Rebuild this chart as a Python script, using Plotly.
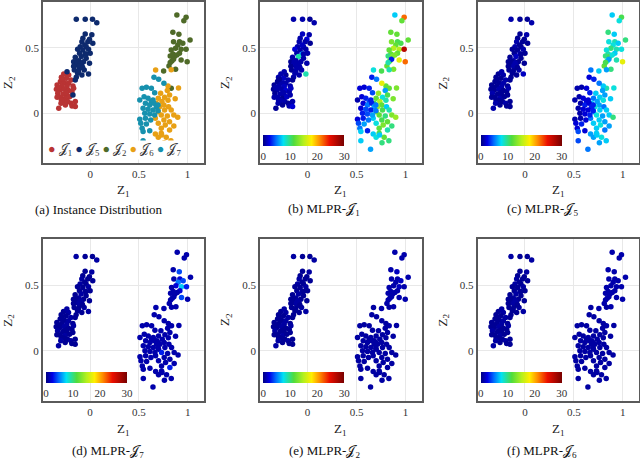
import plotly.graph_objects as go

# ---------------- data: instance positions (Z1, Z2) per group ----------------
I1_x = [-0.272,-0.221,-0.296,-0.245,-0.197,-0.306,-0.265,-0.221,-0.34,-0.289,
        -0.238,-0.177,-0.347,-0.313,-0.265,-0.221,-0.187,-0.333,-0.279,-0.238,
        -0.306,-0.255,-0.211,-0.272,-0.231,-0.197,-0.153,-0.187,-0.153,-0.323,
        -0.296,-0.34,-0.17,-0.323,-0.289,-0.245,-0.30,-0.255]
I1_y = [0.30,0.293,0.275,0.267,0.254,0.242,0.234,0.229,0.216,0.209,
        0.204,0.209,0.183,0.178,0.183,0.173,0.165,0.153,0.148,0.14,
        0.122,0.115,0.127,0.097,0.089,0.076,0.089,0.056,0.051,0.038,
        0.102,0.122,0.191,0.196,0.259,0.158,0.076,0.064]

I5_x = [-0.143,-0.051,0.024,0.068,-0.051,0.017,-0.075,-0.007,-0.085,-0.024,
        0.027,-0.102,-0.041,-0.129,-0.075,-0.017,-0.109,-0.051,0.0,-0.153,
        -0.092,-0.041,-0.17,-0.119,-0.068,-0.007,-0.143,-0.085,-0.109,-0.163,
        -0.061,-0.129,-0.017,-0.085,-0.143,-0.238,-0.153,-0.177,-0.136,-0.10,
        -0.041,-0.055,-0.115,-0.078,-0.17,-0.12]
I5_y = [0.718,0.718,0.718,0.692,0.606,0.60,0.573,0.565,0.547,0.547,
        0.534,0.509,0.509,0.489,0.483,0.489,0.458,0.453,0.458,0.427,
        0.433,0.42,0.394,0.402,0.394,0.382,0.369,0.361,0.344,0.331,
        0.331,0.305,0.30,0.293,0.275,0.318,0.254,0.14,0.394,0.382,
        0.453,0.522,0.362,0.35,0.36,0.32]

I2_x = [0.891,0.986,0.963,0.85,0.912,1.027,0.857,0.918,0.952,0.901,
        0.878,0.935,0.986,0.833,0.85,0.918,0.823,0.867,0.935,0.997,
        0.84,0.81,0.878,0.755,0.833,0.857,0.823,0.891]
I2_y = [0.751,0.733,0.707,0.618,0.603,0.56,0.547,0.547,0.534,0.522,
        0.496,0.489,0.489,0.483,0.453,0.458,0.438,0.433,0.407,0.394,
        0.40,0.361,0.336,0.323,0.191,0.412,0.387,0.445]

I6_x = [0.673,0.80,0.908,0.793,0.724,0.816,0.765,0.70,0.80,0.874,
        0.738,0.68,0.758,0.714,0.806,0.765,0.70,0.833,0.731,0.793,
        0.86,0.90,0.67,0.758,0.816,0.70,0.772,0.86,0.731,0.816,
        0.67,0.731,0.782,0.70,0.83,0.833,0.643,0.735,0.76]
I6_y = [0.331,0.208,0.193,0.173,0.153,0.14,0.122,0.114,0.10,0.111,
        0.089,0.076,0.063,0.05,0.05,0.025,0.012,0.025,-0.013,-0.021,
        -0.013,-0.031,-0.038,-0.051,-0.064,-0.076,-0.089,-0.097,-0.115,-0.127,
        -0.158,-0.153,-0.183,-0.183,-0.21,0.333,-0.275,-0.166,-0.225]

I7_x = [0.656,0.704,0.758,0.534,0.578,0.629,0.663,0.51,0.554,0.595,
        0.629,0.568,0.612,0.656,0.68,0.544,0.595,0.646,0.697,0.561,
        0.612,0.663,0.51,0.568,0.622,0.52,0.578,0.534,0.544,0.612,
        0.544,0.646,0.697]
I7_y = [0.275,0.26,0.229,0.191,0.198,0.191,0.157,0.101,0.127,0.114,
        0.089,0.076,0.063,0.076,0.05,0.038,0.031,0.025,0.02,0.0,
        -0.005,-0.013,-0.046,-0.038,-0.051,-0.076,-0.082,-0.115,-0.14,-0.133,
        -0.21,0.101,0.063]

# ---------------- data: MLPR values per panel and group ----------------
b_I1 = [1,0.5,1,1.5,1,0.5,1,1,0.5,1, 1.5,1,0.5,1,1,2,1,0.5,1,1,
        1,0.5,1.5,1,1,0.5,1,1,2,0.5, 1,1,1.5,1,0.5,1,1,0.5]
b_I5 = [1,1,0.5,1,1.5,1,1,2,1,1, 0.5,1,1,2,1,1,1,6,1,1,
        9,1,0.5,1,1,1,1.5,1,1,0.5, 1,1,9,1,1,1,0.5,1,1,1,
        1,1.5,1,1,0.5,1]
b_I2 = [7,22,12,12,12,12,13,11,11,12, 15,15,27,12,12,12,10,13,17,22,
        12,12,13,11,12,3,9,13]
b_I6 = [8,12,13,6,14,11,8,12,9,13, 15,11,12,14,7,11,13,9,12,10,
        13,14,7,11,12,8,13,10,12,9, 7,11,12,8,10,9,6,7,10]
b_I7 = [3,5,17,2,2,3,4,1,2,3, 4,2,5,3,6,2,4,3,5,3,
        4,6,2,3,5,4,6,5,7,3, 7,3,5]

c_I1 = [0.5,1,0.5,0.5,1,0.5,0.5,1,0.5,0.5, 1,0.5,0.5,0.5,1,0.5,0.5,1,0.5,0.5,
        0.5,1,0.5,0.5,0.5,1,0.5,0.5,0.5,1, 0.5,0.5,1,0.5,0.5,0.5,1,0.5]
c_I5 = [1,0.5,0.5,1,0.5,1,0.5,0.5,1,0.5, 0.5,1,0.5,0.5,0.5,1,0.5,1.5,0.5,0.5,
        1.5,0.5,0.5,1,0.5,0.5,0.5,1,0.5,0.5, 1,0.5,1.5,0.5,0.5,1,0.5,0.5,0.5,1,
        0.5,0.5,1,0.5,0.5,0.5]
c_I2 = [7,11,8,10,7,10,8,9,7,8, 10,9,8,8,9,7,10,11,9,17,
        8,12,10,7,9,6,11,8]
c_I6 = [5,7,8,6,7,6,7,5,8,7, 6,7,6,8,5,7,6,7,8,6,
        7,10,5,7,6,7,8,6,7,5, 6,7,8,6,7,6,5,7,6]
c_I7 = [2,3,5,1,1,2,3,1,1,2, 2,1,3,2,3,1,2,2,3,1,
        2,3,1,1,2,2,3,2,4,2, 4,2,3]

d_I1 = [0.5,0.8,0.5,0.5,0.8,0.5,0.5,0.8,0.5,0.5, 0.8,0.5,0.5,0.5,0.8,0.5,0.5,0.8,0.5,0.5,
        0.5,0.8,0.5,0.5,0.5,0.8,0.5,0.5,0.5,0.8, 0.5,0.5,0.8,0.5,0.5,0.5,0.8,0.5]
d_I5 = [0.8,0.5,0.5,0.8,0.5,0.8,0.5,0.5,0.8,0.5, 0.5,0.8,0.5,0.5,0.5,0.8,0.5,0.8,0.5,0.5,
        0.8,0.5,0.5,0.8,0.5,0.5,0.5,0.8,0.5,0.5, 0.8,0.5,0.8,0.5,0.5,0.8,0.5,0.5,0.5,0.8,
        0.5,0.5,0.8,0.5,0.5,0.5]
d_I2 = [1,1,1,1,4,1,1,2,4,5, 2,7,3,1,1,2,1,1,4,1,
        1,1,1,1,1,1,1,1]
d_I6 = [1,1,1,1,1,1,1,1,1,1, 1,1,1,1,1,1,1,1,3,1,
        1,1,1,1,1,1,1,1,1,3, 1,1,1,1,1,1,1,1,1]
d_I7 = [1,1,1,1,1,1,1,1,1,1, 1,1,1,1,1,1,1,1,1,1,
        1,1,1,1,1,1,1,1,1,1, 1,1,1]

e_I1 = d_I1
e_I5 = d_I5
e_I2 = [1,1,1,1,1.5,1,1,1,1.5,1, 1,1.5,1,1,1,1,1,1,1,1,
        1,1,1,1,1,1,1,1]
e_I6 = [0.8,0.8,0.8,0.8,0.8,0.8,0.8,0.8,0.8,0.8, 0.8,0.8,0.8,0.8,0.8,0.8,0.8,0.8,0.8,0.8,
        0.8,0.8,0.8,0.8,0.8,0.8,0.8,0.8,0.8,0.8, 0.8,0.8,0.8,0.8,0.8,0.8,0.8,0.8,0.8]
e_I7 = [0.8,0.8,0.8,0.8,0.8,0.8,0.8,0.8,0.8,0.8, 0.8,0.8,0.8,0.8,0.8,0.8,0.8,0.8,0.8,0.8,
        0.8,0.8,0.8,0.8,0.8,0.8,0.8,0.8,0.8,0.8, 0.8,0.8,0.8]

f_I1 = d_I1
f_I5 = d_I5
f_I2 = [1,1,1,1,1,1,1,1,1,1, 1,1,1,1,1,1,1,1,1,1,
        1,1,1,1,1,1,1,1]
f_I6 = e_I6
f_I7 = e_I7

group_names = ["𝒥<sub>1</sub>", "𝒥<sub>5</sub>", "𝒥<sub>2</sub>", "𝒥<sub>6</sub>", "𝒥<sub>7</sub>"]
group_colors = ["#b93434", "#0d2a6e", "#4f6a28", "#e8a015", "#1791ae"]
cbar_ticks = [0, 10, 20, 30]
captions = ["(a) Instance Distribution", "(b) MLPR-𝒥<sub>1</sub>", "(c) MLPR-𝒥<sub>5</sub>",
            "(d) MLPR-𝒥<sub>7</sub>", "(e) MLPR-𝒥<sub>2</sub>", "(f) MLPR-𝒥<sub>6</sub>"]

# jet-like colour map as seen in the reference colour bars
JET = [[0.0, "rgb(0,0,128)"], [0.08, "rgb(0,0,230)"], [0.16, "rgb(0,110,255)"],
       [0.25, "rgb(0,225,245)"], [0.38, "rgb(80,220,60)"], [0.5, "rgb(180,240,30)"],
       [0.6, "rgb(255,238,0)"], [0.7, "rgb(255,140,0)"], [0.82, "rgb(235,15,0)"],
       [1.0, "rgb(120,0,0)"]]

# ---------------- layout geometry (pixels) ----------------
W, H = 640, 459
SERIF = "Liberation Serif, Times New Roman, DejaVu Serif, serif"
panels_px = [  # left, right, top, bottom
    (43, 203.5, 2, 163), (260, 421.7, 2, 163), (477.5, 639, 2, 163),
    (42.7, 204, 239.3, 400.7), (260, 421.7, 239.3, 400.7), (477.5, 639, 239.3, 400.7),
]
XR = [-0.485, 1.165]
YR = [-0.38, 0.85]

fig = go.Figure()
all_x = I1_x + I5_x + I2_x + I6_x + I7_x
all_y = I1_y + I5_y + I2_y + I6_y + I7_y

# panel (a): groups
gx = [I1_x, I5_x, I2_x, I6_x, I7_x]
gy = [I1_y, I5_y, I2_y, I6_y, I7_y]
for k in range(5):
    fig.add_trace(go.Scatter(x=gx[k], y=gy[k], mode="markers", xaxis="x", yaxis="y",
                             marker=dict(size=5.5, color=group_colors[k]),
                             showlegend=False, hoverinfo="skip"))

panel_vals = [
    b_I1 + b_I5 + b_I2 + b_I6 + b_I7,
    c_I1 + c_I5 + c_I2 + c_I6 + c_I7,
    d_I1 + d_I5 + d_I2 + d_I6 + d_I7,
    e_I1 + e_I5 + e_I2 + e_I6 + e_I7,
    f_I1 + f_I5 + f_I2 + f_I6 + f_I7,
]
for i, vals in enumerate(panel_vals):
    p = i + 2
    l, r, t, b = panels_px[p - 1]
    bar_top = t + 133
    fig.add_trace(go.Scatter(
        x=all_x, y=all_y, mode="markers", xaxis=f"x{p}", yaxis=f"y{p}",
        marker=dict(size=5.5, color=vals, colorscale=JET, cmin=0, cmax=30,
                    showscale=True,
                    colorbar=dict(orientation="h", x=(l + 3.3) / W, xanchor="left",
                                  y=1 - bar_top / H, yanchor="top",
                                  len=81, lenmode="pixels", thickness=11,
                                  xpad=0, ypad=0, outlinewidth=0,
                                  tickvals=cbar_ticks, ticks="",
                                  tickfont=dict(family=SERIF, size=11, color="#333"))),
        showlegend=False, hoverinfo="skip"))

layout = dict(width=W, height=H, margin=dict(l=0, r=0, t=0, b=0),
              paper_bgcolor="white", plot_bgcolor="white", showlegend=False)
for p, (l, r, t, b) in enumerate(panels_px, start=1):
    sx = "" if p == 1 else str(p)
    layout[f"xaxis{sx}"] = dict(domain=[l / W, r / W], anchor=f"y{sx}", range=XR,
                                tickvals=[0, 0.5, 1], ticktext=["0", "0.5", "1"],
                                showgrid=True, gridcolor="#e8e8e8", gridwidth=1,
                                zeroline=False, showline=True, mirror=True,
                                linecolor="#5a5a5a", linewidth=1.5, ticks="",
                                tickfont=dict(family=SERIF, size=11, color="#333"))
    layout[f"yaxis{sx}"] = dict(domain=[1 - b / H, 1 - t / H], anchor=f"x{sx}", range=YR,
                                tickvals=[0, 0.5], ticktext=["0", "0.5"],
                                showgrid=True, gridcolor="#e8e8e8", gridwidth=1,
                                zeroline=False, showline=True, mirror=True,
                                linecolor="#5a5a5a", linewidth=1.5, ticks="",
                                tickfont=dict(family=SERIF, size=11, color="#333"))

annotations = []
cap_x = [99, 324, 542, 108, 324, 542]
for p, (l, r, t, b) in enumerate(panels_px, start=1):
    row1 = t < 100
    annotations.append(dict(text="Z<sub>1</sub>", xref="paper", yref="paper",
                            x=(l + r) / 2 / W, y=1 - (190 if row1 else 429) / H,
                            showarrow=False, xanchor="center", yanchor="middle",
                            font=dict(family=SERIF, size=13, color="#222")))
    annotations.append(dict(text="Z<sub>2</sub>", xref="paper", yref="paper",
                            x=(l - 35) / W, y=1 - (83 if row1 else 320) / H, textangle=-90,
                            showarrow=False, xanchor="center", yanchor="middle",
                            font=dict(family=SERIF, size=13, color="#222")))
    annotations.append(dict(text=captions[p - 1], xref="paper", yref="paper",
                            x=cap_x[p - 1] / W, y=1 - (210 if row1 else 451) / H,
                            showarrow=False, xanchor="center", yanchor="middle",
                            font=dict(family=SERIF, size=13, color="#111")))

legend_txt = " ".join(
    f'<span style="color:{c}">●</span> {n}' for c, n in zip(group_colors, group_names))
annotations.append(dict(text=legend_txt, xref="paper", yref="paper",
                        x=46 / W, y=1 - 150 / H, xanchor="left", yanchor="middle",
                        showarrow=False, bgcolor="white", borderpad=1,
                        font=dict(family=SERIF, size=12.5, color="#333")))
layout["annotations"] = annotations
fig.update_layout(**layout)
fig.write_html("out.html", config={"displayModeBar": False},
               post_script="document.body.style.margin='0';document.body.style.overflow='hidden';")
